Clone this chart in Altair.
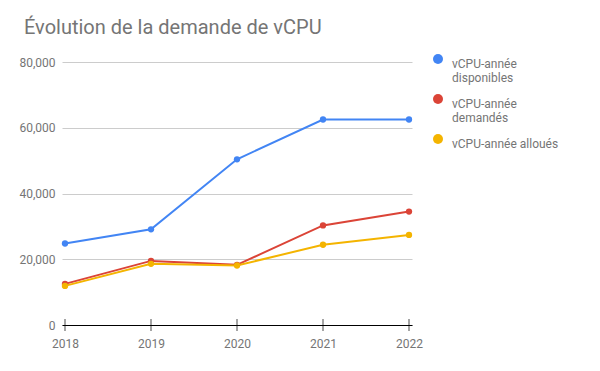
import altair as alt
import pandas as pd

years = [2018, 2019, 2020, 2021, 2022]
series_names = ["vCPU-année disponibles", "vCPU-année demandés", "vCPU-année alloués"]
disponibles = [24800, 29100, 50400, 62500, 62500]
demandes = [12500, 19500, 18300, 30300, 34500]
alloues = [11900, 18600, 18100, 24400, 27400]
colors = ["#4285F4", "#DB4437", "#F4B400"]
y_ticks = [0, 20000, 40000, 60000, 80000]

rows = []
for name, vals in zip(series_names, [disponibles, demandes, alloues]):
    for yr, v in zip(years, vals):
        rows.append({"année": yr, "valeur": v, "série": name})
df = pd.DataFrame(rows)
ticks_df = pd.DataFrame({"année": years, "zero": [0] * len(years)})

FONT = "Roboto"
GRAY = "#757575"

x_scale = alt.Scale(domain=[2018, 2022], padding=3, nice=False, zero=False)
y_scale = alt.Scale(domain=[0, 80000], nice=False)

base = alt.Chart(df).encode(
    x=alt.X("année:Q", scale=x_scale,
            axis=alt.Axis(title=None, values=years, format="d", grid=False,
                          ticks=False, domainColor="black", domainWidth=1,
                          labelColor=GRAY, labelFont=FONT, labelFontSize=12,
                          labelPadding=13)),
    y=alt.Y("valeur:Q", scale=y_scale,
            axis=alt.Axis(title=None, values=y_ticks, format=",d", grid=True,
                          gridColor="#cccccc", ticks=False, domain=False,
                          labelColor=GRAY, labelFont=FONT, labelFontSize=12,
                          labelPadding=7)),
    color=alt.Color("série:N",
                    scale=alt.Scale(domain=series_names, range=colors),
                    sort=series_names,
                    legend=alt.Legend(title=None, orient="none", legendX=370, legendY=-9,
                                      symbolType="circle", symbolSize=100,
                                      symbolStrokeWidth=0, symbolOpacity=1,
                                      labelFont=FONT, labelFontSize=12, labelColor=GRAY,
                                      labelBaseline="top", labelOffset=8,
                                      rowPadding=9,
                                      labelExpr="datum.label == 'vCPU-année alloués' ? datum.label : split(datum.label, ' ')")),
)

lines = base.mark_line(strokeWidth=2)
points = base.mark_point(filled=True, size=40, opacity=1)

ticks = alt.Chart(ticks_df).mark_tick(color="black", thickness=1, size=12, orient="vertical").encode(
    x=alt.X("année:Q", scale=x_scale),
    y=alt.Y("zero:Q", scale=y_scale),
)

chart = alt.layer(lines, points, ticks).properties(
    width=350,
    height=263,
    title=alt.TitleParams("Évolution de la demande de vCPU", anchor="start", frame="group",
                          font=FONT, fontSize=20, fontWeight="normal",
                          color=GRAY, dx=-38, offset=15),
    autosize=alt.AutoSizeParams(type="none"),
    padding={"left": 54, "top": 54, "right": 180, "bottom": 38},
).configure_view(stroke=None)

chart.save("out.html", embed_options={"renderer": "svg", "actions": False})
